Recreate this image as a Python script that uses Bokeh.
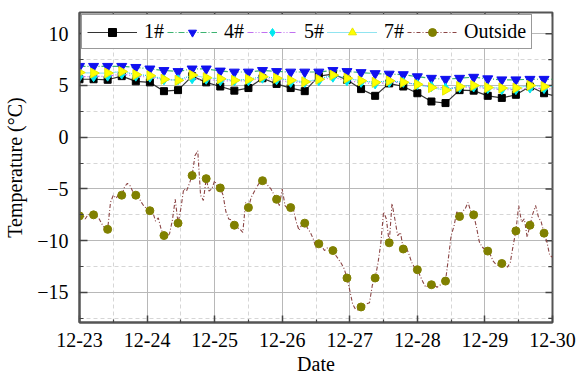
import numpy as np
from bokeh.plotting import figure
from bokeh.models import Range1d, LinearAxis, FixedTicker, Legend, LegendItem
from bokeh.embed import file_html
from bokeh.resources import INLINE

# ---------------- data ----------------
date_labels = ["12-23", "12-24", "12-25", "12-26", "12-27", "12-28", "12-29", "12-30"]
y_ticks = [-15, -10, -5, 0, 5, 10]
y_minor = [-17.5, -12.5, -7.5, -2.5, 2.5, 7.5]

hours_in = [0, 5, 10, 15, 20, 25, 30, 35, 40, 45, 50, 55, 60, 65, 70, 75, 80, 85,
            90, 95, 100, 105, 110, 115, 120, 125, 130, 135, 140, 145, 150, 155,
            160, 165, 168]

t1 = [5.6, 5.6, 5.55, 5.9, 5.4, 5.3, 4.45, 4.55, 5.9, 5.3, 4.9, 4.5, 4.75, 5.7,
      5.15, 4.75, 4.45, 5.9, 6.1, 5.55, 4.65, 4.0, 5.2, 4.9, 4.25, 3.45, 3.3,
      4.55, 4.5, 4.0, 3.8, 4.1, 4.9, 4.25, 4.05]
t4 = [6.85, 6.85, 6.85, 6.85, 6.75, 6.6, 6.45, 6.35, 6.6, 6.6, 6.4, 6.3, 6.3,
      6.45, 6.35, 6.3, 6.3, 6.3, 6.45, 6.35, 6.25, 6.15, 6.1, 6.05, 5.85, 5.7,
      5.6, 5.7, 5.8, 5.65, 5.55, 5.55, 5.6, 5.6, 5.6]
t5 = [5.85, 5.85, 5.9, 6.1, 5.9, 5.8, 5.55, 5.55, 5.65, 5.6, 5.45, 5.45, 5.45,
      5.7, 5.55, 5.3, 5.3, 5.45, 5.8, 5.45, 5.3, 5.15, 5.3, 5.3, 5.1, 4.9, 4.75,
      4.8, 4.85, 4.7, 4.6, 4.6, 4.75, 4.7, 4.65]
t7 = [6.25, 6.2, 6.2, 6.35, 6.05, 5.95, 5.6, 5.5, 6.0, 5.75, 5.65, 5.5, 5.6,
      5.85, 5.7, 5.5, 5.35, 5.6, 6.0, 5.7, 5.45, 5.3, 5.45, 5.3, 5.1, 4.8, 4.55,
      4.9, 5.0, 4.8, 4.75, 4.75, 5.0, 4.9, 4.9]

outside = [
    -7.6, -7.4, -7.9, -7.5, -7.4, -7.5, -7.6, -7.9, -8.4, -8.8,
    -8.9, -6.3, -5.6, -5.9, -5.5, -5.6, -4.8, -4.45, -4.7, -5.3,
    -5.6, -5.8, -6.3, -6.7, -6.9, -7.1, -7.2, -8.1, -7.8, -8.9,
    -9.5, -9.7, -9.3, -8.0, -6.0, -8.3, -6.9, -5.0, -5.2, -4.5,
    -3.7, -1.8, -1.3, -5.6, -6.1, -4.0, -5.2, -5.0, -4.2, -4.8,
    -4.9, -5.6, -7.2, -7.9, -8.0, -8.5, -8.7, -8.9, -9.2, -6.3,
    -6.8, -5.8, -5.3, -4.8, -4.35, -4.2, -4.3, -4.7, -5.0, -5.5,
    -6.0, -6.6, -5.0, -6.6, -6.9, -6.8, -7.0, -8.2, -9.0, -8.4,
    -8.3, -8.8, -9.2, -9.8, -10.7, -10.3, -10.5, -10.95, -10.7, -10.85,
    -10.95, -11.4, -11.8, -12.2, -12.7, -13.6, -14.8, -16.1, -16.6, -16.7,
    -16.4, -16.3, -16.1, -16.0, -14.3, -13.6, -12.2, -10.3, -7.2, -7.9,
    -10.2, -6.4, -7.9, -9.5, -9.2, -10.8, -10.6, -11.3, -12.1, -12.6,
    -12.8, -13.4, -14.0, -14.5, -14.3, -14.25, -14.3, -14.5, -14.3, -14.1,
    -13.9, -11.75, -9.5, -8.6, -7.2, -7.66, -7.2, -6.9, -6.3, -7.2,
    -7.5, -8.7, -10.1, -10.6, -10.85, -11.0, -11.4, -12.0, -12.3, -12.4,
    -12.2, -12.2, -12.55, -12.1, -10.5, -9.05, -6.6, -8.2, -7.9, -9.65,
    -8.5, -7.4, -6.6, -7.7, -8.2, -9.27, -10.1, -11.4, -11.6,
]
hours_out = list(range(len(outside)))
marker_every = 5

# ---------------- figure ----------------
FONT = "Liberation Serif"
x_in = np.array(hours_in) / 24.0
x_out = np.array(hours_out) / 24.0
X0, X1, Y0, Y1 = 0, 7, -17.9, 12.05

p = figure(width=580, height=379, output_backend="svg", toolbar_location=None,
           x_range=Range1d(X0, X1), y_range=Range1d(Y0, Y1),
           x_axis_location=None, y_axis_location=None,
           min_border_left=79, min_border_right=28, min_border_top=12,
           min_border_bottom=57)
p.background_fill_color = "white"
p.outline_line_color = "#555555"
p.outline_line_width = 2

xt = FixedTicker(ticks=list(range(len(date_labels))),
                 minor_ticks=[i + 0.5 for i in range(len(date_labels) - 1)])
yt = FixedTicker(ticks=y_ticks, minor_ticks=y_minor)

def style_axis(ax, tin, mtin):
    ax.axis_line_color = "#555555"
    ax.axis_line_width = 2
    ax.major_tick_line_color = "#444444"
    ax.minor_tick_line_color = "#444444"
    ax.major_tick_line_width = 1.5
    ax.minor_tick_line_width = 1.2
    ax.major_tick_in = tin
    ax.major_tick_out = 0
    ax.minor_tick_in = mtin
    ax.minor_tick_out = 0
    ax.major_label_text_font = FONT
    ax.major_label_text_font_size = "20px"
    ax.major_label_text_color = "black"
    ax.axis_label_text_font = FONT
    ax.axis_label_text_font_size = "20px"
    ax.axis_label_text_font_style = "normal"
    ax.axis_label_text_color = "black"

xb = LinearAxis(ticker=xt, axis_label="Date")
style_axis(xb, 7, 3)
xb.major_label_overrides = {i: lab for i, lab in enumerate(date_labels)}
xb.major_label_standoff = 10
xb.axis_label_standoff = 3
p.add_layout(xb, "below")

yl = LinearAxis(ticker=yt, axis_label="Temperature (°C)")
style_axis(yl, 8, 4)
yl.major_label_standoff = 11
yl.axis_label_standoff = 8
p.add_layout(yl, "left")

# inward ticks along the top and right edges, from the same tick lists
top_len = 4 * (Y1 - Y0) / 310
p.segment(x0=xt.ticks, y0=[Y1] * len(xt.ticks), x1=xt.ticks,
          y1=[Y1 - top_len] * len(xt.ticks), line_color="#444444", line_width=1.5)
p.segment(x0=xt.minor_ticks, y0=[Y1] * len(xt.minor_ticks), x1=xt.minor_ticks,
          y1=[Y1 - 0.75 * top_len] * len(xt.minor_ticks), line_color="#444444",
          line_width=1.2)
r_len = 7 * (X1 - X0) / 473
p.segment(x0=[X1] * len(y_ticks), y0=y_ticks, x1=[X1 - r_len] * len(y_ticks),
          y1=y_ticks, line_color="#444444", line_width=1.5)
p.segment(x0=[X1] * len(y_minor), y0=y_minor, x1=[X1 - 0.6 * r_len] * len(y_minor),
          y1=y_minor, line_color="#444444", line_width=1.2)

for g, t in ((p.xgrid, xt), (p.ygrid, yt)):
    g.ticker = t
    g.grid_line_color = "#b8b8b8"
    g.grid_line_width = 1
    g.minor_grid_line_color = "#d6d6d6"
    g.minor_grid_line_dash = "4 3"
    g.minor_grid_line_width = 1

# ---------------- series ----------------
l1 = p.line(x_in, t1, line_color="#333333", line_width=1.2)
s1 = p.scatter(x_in[:-1], t1[:-1], marker="square", size=7,
               fill_color="black", line_color="black")

l4 = p.line(x_in, t4, line_color="#3cb371", line_width=1.2, line_dash="6 2 1 2")
s4 = p.scatter(x_in[:-1], t4[:-1], marker="inverted_triangle", size=10,
               fill_color="#1010f0", line_color="#1010f0")

l5 = p.line(x_in, t5, line_color="#c070f0", line_width=1.2, line_dash="6 2 1 2 1 2")
s5 = p.scatter(x_in[:-1], t5[:-1], marker="diamond", size=10,
               fill_color="#00e8f0", line_color="#00e8f0")

l7 = p.line(x_in, t7, line_color="#20c8e0", line_width=1.2, line_dash="1 1")
s7 = p.scatter(x_in[:-1], t7[:-1], marker="triangle", size=10, angle=-np.pi / 2,
               fill_color="#ffff00", line_color="#e8e800")

lo = p.line(x_out, outside, line_color="#8b4545", line_width=1.1, line_dash="4 2 1 2")
so = p.scatter(x_out[::marker_every], outside[::marker_every], marker="circle",
               size=8, fill_color="#808000", line_color="#808000")

legend = Legend(items=[
    LegendItem(label="1#", renderers=[l1, s1]),
    LegendItem(label="4#", renderers=[l4, s4]),
    LegendItem(label="5#", renderers=[l5, s5]),
    LegendItem(label="7#", renderers=[l7, s7]),
    LegendItem(label="Outside", renderers=[lo, so]),
], orientation="horizontal", location="top_left")
legend.glyph_width = 50
legend.glyph_height = 20
legend.label_standoff = 7
legend.spacing = 3
legend.padding = 5
legend.margin = 2
legend.border_line_color = "#333333"
legend.border_line_width = 1.5
legend.background_fill_alpha = 1
legend.label_text_font = FONT
legend.label_text_font_size = "20px"
legend.label_text_color = "black"
p.add_layout(legend)

open("out.html", "w").write(file_html(p, INLINE))
